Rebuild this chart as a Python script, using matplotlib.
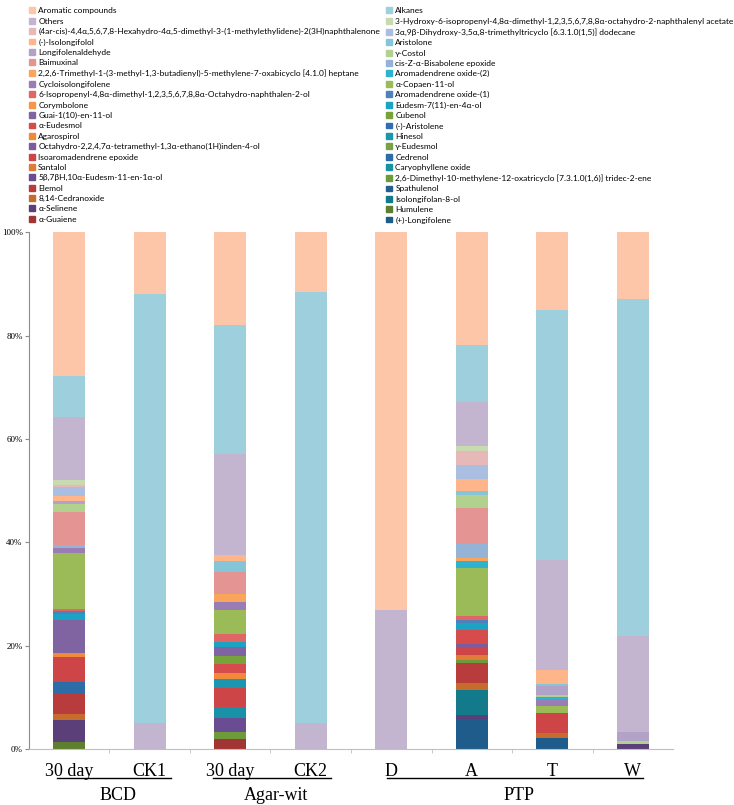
import numpy as np
import matplotlib.pyplot as plt
from matplotlib.patches import Patch

# categories on the x axis and their groups
categories = ["30 day", "CK1", "30 day", "CK2", "D", "A", "T", "W"]
groups = ["BCD", "Agar-wit", "PTP"]

# compounds, stacked from the bottom of each bar upwards
compounds = [
    "(+)-Longifolene",
    "α-Guaiene",
    "Humulene",
    "α-Selinene",
    "Isolongifolan-8-ol",
    "8,14-Cedranoxide",
    "Spathulenol",
    "Elemol",
    "2,6-Dimethyl-10-methylene-12-oxatricyclo [7.3.1.0(1,6)] tridec-2-ene",
    "5β,7βH,10α-Eudesm-11-en-1α-ol",
    "Caryophyllene oxide",
    "Santalol",
    "Cedrenol",
    "Isoaromadendrene epoxide",
    "γ-Eudesmol",
    "Octahydro-2,2,4,7α-tetramethyl-1,3α-ethano(1H)inden-4-ol",
    "Hinesol",
    "Agarospirol",
    "(-)-Aristolene",
    "α-Eudesmol",
    "Cubenol",
    "Guai-1(10)-en-11-ol",
    "Eudesm-7(11)-en-4α-ol",
    "Corymbolone",
    "Aromadendrene oxide-(1)",
    "6-Isopropenyl-4,8α-dimethyl-1,2,3,5,6,7,8,8α-Octahydro-naphthalen-2-ol",
    "α-Copaen-11-ol",
    "Cycloisolongifolene",
    "Aromadendrene oxide-(2)",
    "2,2,6-Trimethyl-1-(3-methyl-1,3-butadienyl)-5-methylene-7-oxabicyclo [4.1.0] heptane",
    "cis-Z-α-Bisabolene epoxide",
    "Baimuxinal",
    "γ-Costol",
    "Longifolenaldehyde",
    "Aristolone",
    "(-)-Isolongifolol",
    "3α,9β-Dihydroxy-3,5α,8-trimethyltricyclo [6.3.1.0(1,5)] dodecane",
    "(4ar-cis)-4,4α,5,6,7,8-Hexahydro-4α,5-dimethyl-3-(1-methylethylidene)-2(3H)naphthalenone",
    "3-Hydroxy-6-isopropenyl-4,8α-dimethyl-1,2,3,5,6,7,8,8α-octahydro-2-naphthalenyl acetate",
    "Others",
    "Alkanes",
    "Aromatic compounds",
]

colors = [
    "#1F5C8B", "#A33434", "#5E7F2F", "#5B3F78", "#137A8C", "#C66D2D", "#255E91",
    "#B93C3C", "#6F9A3C", "#6A4C93", "#1992A8", "#E07B39", "#2C6DA8", "#CD4546",
    "#7AA146", "#7D5B9D", "#1A96AF", "#F08A3A", "#2F6EB4", "#D64B4B", "#77A33A",
    "#8064A2", "#1CA3C4", "#F79646", "#4F81BD", "#E06666", "#9BBB59", "#9A7DB5",
    "#2DB3CF", "#F9A55B", "#95B3D7", "#E59494", "#B2D08E", "#B3A2C7", "#86C5D8",
    "#FDB589", "#A9BEE0", "#E6B9B8", "#C9D9B0", "#C3B5D0", "#9ECFDC", "#FDC6A8",
]

# percentages per bar, same order as compounds (bottom -> top)
bcd_30 = [0, 0, 1.3, 4.3, 0, 1.1, 0, 3.9, 0, 0,
          0, 0, 2.4, 4.7, 0, 0, 0, 0.8, 0, 0,
          0, 6.5, 1.1, 0, 0.6, 0.3, 10.9, 1.0, 0, 0,
          0.6, 6.3, 1.6, 0.6, 0, 1.0, 1.7, 0.3, 1.0, 12.3,
          7.8, 27.8]
bcd_ck1 = [0] * 39 + [5.1, 82.9, 12.0]
agar_30 = [0, 1.9, 0, 0, 0, 0, 0, 0, 1.3, 2.7,
           2.3, 0, 0, 3.7, 0, 0, 1.7, 1.2, 0, 1.6,
           1.6, 1.7, 1.1, 0, 0, 1.4, 4.7, 1.6, 0, 1.6,
           0, 4.2, 0, 0, 2.0, 1.3, 0, 0, 0, 19.5,
           24.9, 18.0]
agar_ck2 = [0] * 39 + [5.0, 83.5, 11.5]
ptp_d = [0] * 39 + [27.0, 0, 73.0]
ptp_a = [5.8, 0, 0, 0.8, 4.8, 1.4, 0, 3.8, 0.6, 0,
         0, 1.0, 0, 1.3, 0, 0.8, 0, 0, 0, 2.7,
         0, 0, 1.3, 0, 0.6, 0.9, 9.2, 0, 1.4, 0.6,
         2.6, 7.0, 2.5, 0, 0.8, 2.4, 2.6, 2.8, 0.9, 8.5,
         11.1, 21.7]
ptp_t = [2.1, 0, 0, 0, 0, 1.0, 0, 0, 0, 0,
         0, 0, 0, 3.9, 0, 0, 0, 0, 0, 0,
         0, 0, 0, 0, 0, 0, 1.3, 1.1, 0.6, 0,
         0, 0, 0.5, 1.7, 0.4, 2.6, 0, 0, 0, 21.3,
         48.5, 14.9]
ptp_w = [0, 0, 0, 1.0, 0, 0, 0, 0, 0, 0,
         0, 0, 0, 0, 0, 0, 0, 0, 0, 0,
         0, 0, 0, 0, 0, 0, 0, 0, 0, 0,
         0, 0, 0.6, 1.6, 0, 0, 0, 0, 0, 18.7,
         65.3, 12.8]

data = np.array([bcd_30, bcd_ck1, agar_30, agar_ck2, ptp_d, ptp_a, ptp_t, ptp_w], dtype=float).T
data = data / data.sum(axis=0) * 100  # 100% stacked

fig = plt.figure(figsize=(7.34, 8.05), dpi=100)
ax = fig.add_axes([0.0395, 0.0696, 0.8774, 0.6416])

x = np.arange(len(categories))
bottom = np.zeros(len(categories))
for vals, name, c in zip(data, compounds, colors):
    ax.bar(x, vals, 0.4, bottom=bottom, color=c, linewidth=0, label=name)
    bottom += vals

ax.set_xlim(-0.5, len(categories) - 0.5)
ax.set_ylim(0, 100)
ax.set_yticks(np.arange(0, 101, 20))
ax.set_yticklabels([f"{v}%" for v in range(0, 101, 20)], fontfamily="Liberation Serif", fontsize=6.5)
ax.tick_params(axis="y", length=3, width=0.8, color="#8c8c8c", pad=1.5)

ax.set_xticks(x)
ax.set_xticklabels(categories, fontfamily="Liberation Serif", fontsize=13)
ax.tick_params(axis="x", length=0, pad=10)
ax.set_xticks(np.arange(0.5, len(categories) - 1, 1), minor=True)
ax.tick_params(axis="x", which="minor", length=3, color="#bfbfbf")

for s in ["top", "right"]:
    ax.spines[s].set_visible(False)
ax.spines["left"].set_color("#8c8c8c")
ax.spines["bottom"].set_color("#bfbfbf")

# group underlines and group names
tr = ax.get_xaxis_transform()
group_spans = [(-0.15, 1.26), (1.79, 3.25), (3.95, 7.13)]
for name, (x0, x1) in zip(groups, group_spans):
    ax.plot([x0, x1], [-0.056, -0.056], transform=tr, color="black", lw=1, clip_on=False)
    ax.text((x0 + x1) / 2 + 0.05, -0.0987, name, transform=tr, ha="center", va="baseline",
            fontfamily="Liberation Serif", fontsize=13)

# legend in two columns, as in the source
left_idx = list(range(len(compounds) - 1, -1, -2))
right_idx = list(range(len(compounds) - 2, -1, -2))
leg_kw = dict(loc="upper left", frameon=False, borderpad=0, borderaxespad=0,
              handlelength=0.7, handleheight=0.7, handletextpad=0.4, labelspacing=0.4,
              prop=dict(family=["Lato", "DejaVu Sans"], size=6.0))
fig.legend(handles=[Patch(color=colors[i], label=compounds[i]) for i in left_idx],
           bbox_to_anchor=(0.0395, 0.991), **leg_kw)
fig.legend(handles=[Patch(color=colors[i], label=compounds[i]) for i in right_idx],
           bbox_to_anchor=(0.526, 0.991), **leg_kw)

fig.savefig("out.png", dpi=100)
